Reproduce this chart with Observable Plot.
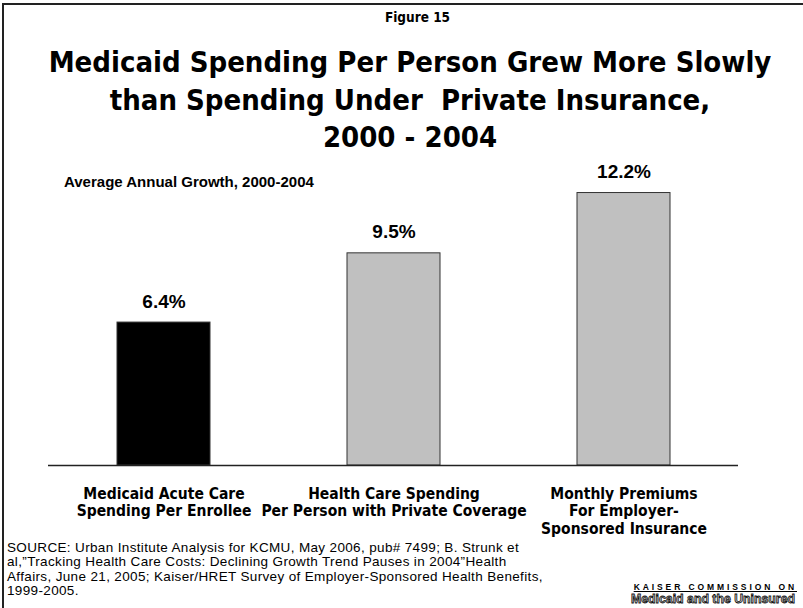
<!DOCTYPE html>
<html>
<head>
<meta charset="utf-8">
<script src="https://cdn.jsdelivr.net/npm/d3@7"></script>
<script src="https://cdn.jsdelivr.net/npm/@observablehq/plot@0.6"></script>
<style>
  html, body { margin: 0; padding: 0; background: #fff; }
  #wrap { position: relative; width: 803px; height: 608px; overflow: hidden; background: #fff; }
  .narrow { font-family: "Liberation Sans Narrow", "Arial Narrow", "DejaVu Sans Condensed", sans-serif; }
  .abs { position: absolute; color: #000; white-space: nowrap; }
  #bt { position: absolute; left: 2px; top: 3px; width: 801px; height: 2px; background: #222; }
  #bl { position: absolute; left: 2px; top: 3px; width: 2px; height: 605px; background: #222; }
  #fig { left: 0; width: 835px; top: 9px; text-align: center; font-weight: bold; font-size: 13.5px; }
  #title { left: 0; width: 820px; top: 44px; text-align: center; font-weight: bold; font-size: 29px; line-height: 37.5px; }
  #sub { left: 64px; top: 173px; font-family: "Liberation Sans", Arial, sans-serif; font-weight: bold; font-size: 15px; }
  #src { left: 7px; top: 541px; font-family: "Liberation Sans", Arial, sans-serif; font-size: 13.5px; letter-spacing: 0.35px; line-height: 14.3px; }
  #logo1 { right: 6px; top: 582px; font-family: "Liberation Sans", Arial, sans-serif; font-weight: bold; font-size: 8.5px; letter-spacing: 2.9px; text-decoration: underline; text-underline-offset: 1px; }
  #logo2 { right: 8px; top: 592px; font-family: "Liberation Sans", Arial, sans-serif; font-weight: bold; font-size: 12.3px; color: #d0d0d0; -webkit-text-stroke: 0.8px #111; letter-spacing: 0px; }
  #chart { position: absolute; left: 0; top: 0; }
</style>
</head>
<body>
<div id="wrap">
  <div id="chart"></div>
  <div id="bt"></div><div id="bl"></div>
  <div id="fig" class="abs narrow">Figure 15</div>
  <div id="title" class="abs narrow">Medicaid Spending Per Person Grew More Slowly<br>than Spending Under&nbsp; Private Insurance,<br>2000 - 2004</div>
  <div id="sub" class="abs">Average Annual Growth, 2000-2004</div>
  <div id="src" class="abs">SOURCE: Urban Institute Analysis for KCMU, May 2006, pub# 7499; B. Strunk et<br>al,”Tracking Health Care Costs: Declining Growth Trend Pauses in 2004”Health<br>Affairs, June 21, 2005; Kaiser/HRET Survey of Employer-Sponsored Health Benefits,<br>1999-2005.</div>
  <div id="logo1" class="abs">KAISER COMMISSION ON</div>
  <div id="logo2" class="abs">Medicaid and the Uninsured</div>
</div>
<script>
const categories = ["Medicaid Acute Care\nSpending Per Enrollee", "Health Care Spending\nPer Person with Private Coverage", "Monthly Premiums\nFor Employer-\nSponsored Insurance"];
const values = [6.4, 9.5, 12.2];
const valueLabels = ["6.4%", "9.5%", "12.2%"];
const barColors = ["#000000", "#c0c0c0", "#c0c0c0"];

const data = categories.map((c, i) => ({cat: c, value: values[i], label: valueLabels[i], color: barColors[i]}));

const narrow = '"Liberation Sans Narrow", "Arial Narrow", "DejaVu Sans Condensed", sans-serif';
const arial = '"Liberation Sans", Arial, sans-serif';

const chart = Plot.plot({
  width: 803,
  height: 608,
  marginTop: 130,
  marginBottom: 143,
  marginLeft: 48,
  marginRight: 65,
  style: {background: "transparent", overflow: "visible"},
  x: {domain: categories, paddingInner: 0.596, paddingOuter: 0.298, axis: null},
  y: {domain: [0, 15], axis: null},
  marks: [
    Plot.barY(data, {x: "cat", y: "value", fill: "color", stroke: "#333", strokeWidth: 1}),
    Plot.ruleY([0], {stroke: "#222", strokeWidth: 1.5}),
    Plot.text(data, {x: "cat", y: "value", text: "label", dy: -21, fontSize: 19, fontWeight: "bold", fontFamily: arial, fill: "#000"}),
    Plot.axisX({tickSize: 0, tickPadding: 21, fontSize: 15.5, fontWeight: "bold", fontFamily: narrow, lineHeight: 1.13, fill: "#000", label: null})
  ]
});
document.getElementById("chart").appendChild(chart);
</script>
</body>
</html>
